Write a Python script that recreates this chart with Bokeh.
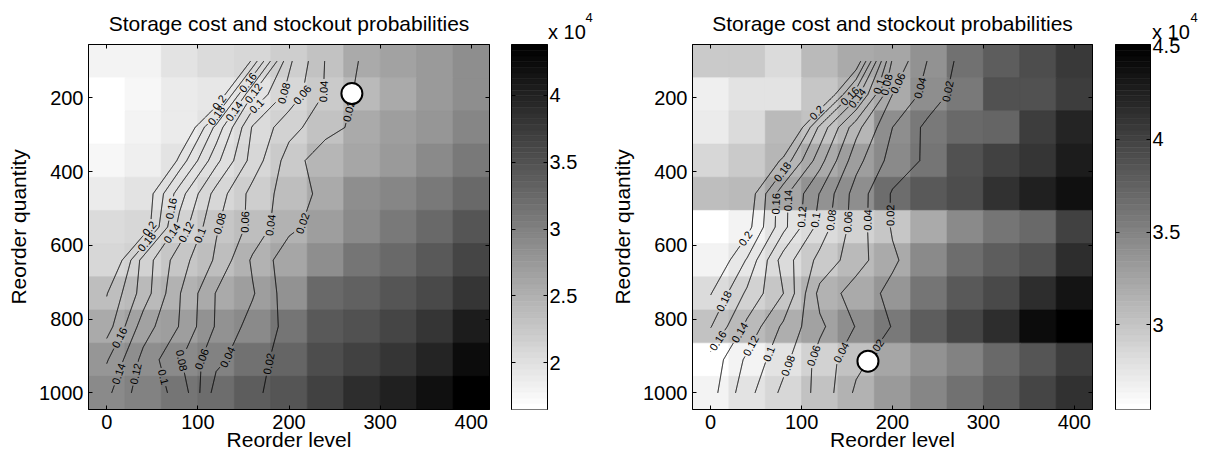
import math
import numpy as np
from contourpy import contour_generator, LineType
from bokeh.plotting import figure
from bokeh.models import Range1d, LinearAxis, FixedTicker, Title, ColumnDataSource, CustomJSTickFormatter
from bokeh.transform import linear_cmap
from bokeh.layouts import row
from bokeh.embed import file_html
from bokeh.resources import INLINE
from bokeh.core.properties import value

# ---------------- data ----------------
reorder_level = [0, 40, 80, 120, 160, 200, 240, 280, 320, 360, 400]
reorder_quantity = [100, 190, 280, 370, 460, 550, 640, 730, 820, 910, 1000]
levels = [0.02, 0.04, 0.06, 0.08, 0.1, 0.12, 0.14, 0.16, 0.18, 0.2]
x_ticks = [0, 100, 200, 300, 400]
y_ticks = [200, 400, 600, 800, 1000]
cb_ticks_left = [2.0, 2.5, 3.0, 3.5, 4.0]
cb_ticks_right = [3.0, 3.5, 4.0, 4.5]
title_text = "Storage cost and stockout probabilities"
x_label = "Reorder level"
y_label = "Reorder quantity"
cb_unit = "x 10"
cb_unit_exp = "4"

# storage cost (x 10^4), rows = reorder quantity, cols = reorder level
cost_left = [
    [1.79, 1.82, 1.95, 2.05, 2.08, 2.17, 2.29, 2.57, 2.65, 2.73, 2.88],
    [1.65, 1.74, 1.87, 1.93, 1.98, 2.10, 2.24, 2.41, 2.58, 2.73, 2.85],
    [1.68, 1.81, 1.87, 1.95, 2.06, 2.15, 2.32, 2.56, 2.69, 2.78, 2.96],
    [1.76, 1.85, 1.98, 2.02, 2.11, 2.24, 2.44, 2.63, 2.74, 2.90, 3.07],
    [1.90, 1.95, 2.00, 2.10, 2.19, 2.36, 2.55, 2.85, 2.96, 3.07, 3.25],
    [2.05, 2.10, 2.16, 2.27, 2.36, 2.50, 2.70, 2.90, 3.07, 3.25, 3.47],
    [2.09, 2.16, 2.27, 2.36, 2.47, 2.61, 2.88, 3.11, 3.26, 3.44, 3.65],
    [2.36, 2.41, 2.50, 2.58, 2.71, 2.82, 3.27, 3.35, 3.45, 3.59, 3.81],
    [2.58, 2.65, 2.71, 2.82, 2.92, 3.11, 3.40, 3.50, 3.64, 3.80, 4.08],
    [2.76, 2.85, 2.92, 3.01, 3.16, 3.29, 3.53, 3.69, 3.81, 3.97, 4.22],
    [2.90, 3.01, 3.11, 3.20, 3.36, 3.47, 3.66, 3.89, 4.02, 4.17, 4.38],
]
cost_right = [
    [2.97, 2.97, 2.83, 3.08, 3.20, 3.23, 3.40, 3.62, 3.80, 3.91, 4.07],
    [2.68, 2.76, 2.76, 3.00, 3.10, 3.22, 3.41, 3.56, 3.89, 3.88, 4.03],
    [2.72, 2.83, 3.07, 3.01, 3.12, 3.43, 3.56, 3.69, 3.72, 4.03, 4.22],
    [2.86, 2.95, 3.12, 3.22, 3.29, 3.45, 3.59, 3.88, 4.00, 4.09, 4.29],
    [3.05, 3.08, 3.24, 3.38, 3.43, 3.68, 3.83, 3.92, 4.14, 4.25, 4.38],
    [2.57, 2.64, 2.78, 2.85, 2.91, 2.99, 3.22, 3.44, 3.59, 3.71, 3.99],
    [2.66, 2.74, 2.85, 2.97, 3.07, 3.22, 3.46, 3.68, 3.80, 3.88, 4.16],
    [2.85, 2.91, 2.99, 3.13, 3.22, 3.35, 3.60, 3.82, 3.94, 4.16, 4.34],
    [3.03, 3.09, 3.18, 3.28, 3.42, 3.57, 3.79, 3.97, 4.15, 4.39, 4.51],
    [2.545, 2.66, 2.77, 2.91, 3.03, 3.23, 3.38, 3.52, 3.71, 3.84, 4.02],
    [2.65, 2.78, 2.86, 3.01, 3.15, 3.32, 3.47, 3.63, 3.78, 3.98, 4.12],
]
# stockout probability, same grid
prob_left = [
    [0.600, 0.520, 0.420, 0.308, 0.194, 0.084, 0.039, 0.018, 0.012, 0.008, 0.005],
    [0.550, 0.460, 0.350, 0.227, 0.120, 0.073, 0.038, 0.014, 0.010, 0.007, 0.005],
    [0.450, 0.340, 0.234, 0.154, 0.078, 0.047, 0.028, 0.013, 0.009, 0.006, 0.004],
    [0.380, 0.282, 0.193, 0.126, 0.072, 0.031, 0.006, 0.005, 0.004, 0.003, 0.002],
    [0.300, 0.219, 0.149, 0.092, 0.053, 0.031, 0.014, 0.010, 0.007, 0.005, 0.003],
    [0.290, 0.217, 0.132, 0.082, 0.054, 0.025, 0.010, 0.007, 0.005, 0.004, 0.003],
    [0.235, 0.152, 0.109, 0.077, 0.037, 0.007, 0.006, 0.005, 0.004, 0.003, 0.002],
    [0.201, 0.151, 0.101, 0.059, 0.042, 0.009, 0.007, 0.005, 0.004, 0.003, 0.002],
    [0.190, 0.130, 0.099, 0.058, 0.032, 0.015, 0.010, 0.007, 0.005, 0.004, 0.003],
    [0.162, 0.114, 0.082, 0.045, 0.027, 0.012, 0.009, 0.006, 0.005, 0.004, 0.003],
    [0.145, 0.108, 0.096, 0.031, 0.023, 0.0125, 0.009, 0.006, 0.005, 0.004, 0.003],
]
prob_right = [
    [0.550, 0.480, 0.400, 0.320, 0.218, 0.077, 0.038, 0.012, 0.008, 0.006, 0.004],
    [0.500, 0.420, 0.330, 0.238, 0.149, 0.060, 0.032, 0.008, 0.006, 0.005, 0.004],
    [0.420, 0.330, 0.250, 0.155, 0.087, 0.040, 0.014, 0.009, 0.006, 0.005, 0.004],
    [0.340, 0.251, 0.194, 0.128, 0.067, 0.032, 0.016, 0.010, 0.007, 0.005, 0.004],
    [0.290, 0.216, 0.146, 0.099, 0.051, 0.018, 0.012, 0.008, 0.006, 0.005, 0.004],
    [0.280, 0.208, 0.146, 0.092, 0.050, 0.018, 0.012, 0.008, 0.006, 0.005, 0.004],
    [0.225, 0.178, 0.110, 0.074, 0.049, 0.023, 0.006, 0.005, 0.004, 0.003, 0.003],
    [0.201, 0.156, 0.120, 0.054, 0.030, 0.015, 0.010, 0.007, 0.005, 0.004, 0.003],
    [0.181, 0.135, 0.096, 0.064, 0.039, 0.019, 0.012, 0.008, 0.006, 0.004, 0.003],
    [0.153, 0.116, 0.086, 0.053, 0.026, 0.008, 0.007, 0.006, 0.005, 0.004, 0.003],
    [0.148, 0.107, 0.075, 0.055, 0.016, 0.010, 0.008, 0.006, 0.005, 0.004, 0.003],
]
optimum_left = (269, 188)
optimum_right = (173, 914)

# where the inline contour labels sit (reorder-quantity value along each line)
label_y_left = {
    0.2: [212, 554], 0.18: [247, 590], 0.16: [158, 500, 850], 0.14: [236, 567, 948],
    0.12: [187, 563, 948], 0.1: [222, 572, 957], 0.08: [187, 540, 912],
    0.06: [191, 536, 908], 0.04: [182, 545, 903], 0.02: [236, 540, 921],
}
label_y_right = {
    0.2: [240, 581], 0.18: [400, 751], 0.16: [195, 487, 858], 0.14: [200, 478, 836],
    0.12: [522, 872], 0.1: [168, 531, 894], 0.08: [164, 531, 926],
    0.06: [160, 536, 899], 0.04: [173, 531, 890], 0.02: [182, 518, 881],
}

# ---------------- style / layout ----------------
FONT = "Liberation Sans"
FIG_H = 459
MB_TOP = 43
MB_BOT = 50
FRAME_H = FIG_H - MB_TOP - MB_BOT
MAIN_MBR = 11
LABEL_PX = 11
# MATLAB flipud(gray(64))
palette = ["#%02x%02x%02x" % ((round(255 * (1 - i / 63)),) * 3) for i in range(64)]
CHAR_W = {".": 0.278}


def style_axis(ax, labels=True):
    ax.major_tick_in = 4
    ax.major_tick_out = 0
    ax.minor_tick_line_color = None
    ax.axis_line_color = "black"
    ax.major_tick_line_color = "black"
    ax.major_label_text_font = FONT
    if labels:
        ax.major_label_text_font_size = "20px"
        ax.major_label_text_color = "black"
    else:
        ax.major_label_text_font_size = "1px"
        ax.major_label_text_color = None
        ax.major_label_standoff = 0


def build_main(cost, prob, optimum, label_y, frame_w, mbl):
    xs_arr = np.array(reorder_level, float)
    ys_arr = np.array(reorder_quantity, float)
    dx = xs_arr[1] - xs_arr[0]
    dy = ys_arr[1] - ys_arr[0]
    x_lo, x_hi = xs_arr[0] - dx / 2, xs_arr[-1] + dx / 2
    y_lo, y_hi = ys_arr[0] - dy / 2, ys_arr[-1] + dy / 2
    C = np.array(cost, float)
    low, high = float(C.min()), float(C.max())

    p = figure(width=mbl + frame_w + MAIN_MBR, height=FIG_H,
               x_range=Range1d(x_lo, x_hi), y_range=Range1d(y_hi, y_lo),
               output_backend="svg", toolbar_location=None,
               min_border_left=mbl, min_border_right=MAIN_MBR,
               min_border_top=MB_TOP, min_border_bottom=MB_BOT,
               title=title_text)
    p.title.text_font = FONT
    p.title.text_font_size = "21px"
    p.title.text_font_style = "normal"
    p.title.text_color = "black"
    p.title.align = "center"
    p.title.standoff = 19
    p.grid.visible = False
    p.outline_line_color = "black"
    p.outline_line_width = 1
    p.background_fill_color = "white"

    gx, gy = np.meshgrid(xs_arr, ys_arr)
    src = ColumnDataSource(dict(x=gx.ravel(), y=gy.ravel(), v=C.ravel()))
    cmap = linear_cmap("v", palette, low, high)
    p.rect(x="x", y="y", width=dx, height=dy, source=src, fill_color=cmap,
           line_color=cmap, line_width=0.6, dilate=True)

    # contours of the stockout probability with inline labels
    KX = frame_w / (x_hi - x_lo)
    KY = FRAME_H / (y_hi - y_lo)
    cg = contour_generator(x=xs_arr, y=ys_arr, z=np.array(prob, float), line_type=LineType.Separate)
    mxs, mys = [], []
    tx, ty, tt, ta = [], [], [], []
    for lvl in levels:
        lines = [np.asarray(l) for l in cg.lines(lvl)]
        txt = f"{lvl:g}"
        half = 0.5 * LABEL_PX * sum(CHAR_W.get(ch, 0.556) for ch in txt) + 1.5
        centers = []
        for yt in label_y.get(lvl, []):
            found = None
            for ln in lines:
                for k in range(len(ln) - 1):
                    y0, y1 = ln[k, 1], ln[k + 1, 1]
                    if y0 != y1 and (y0 - yt) * (y1 - yt) <= 0:
                        t = (yt - y0) / (y1 - y0)
                        x0, x1 = ln[k, 0], ln[k + 1, 0]
                        found = (x0 + t * (x1 - x0), yt, x1 - x0, y1 - y0)
                        break
                if found:
                    break
            if not found:
                continue
            cx, cy, ddx, ddy = found
            ang = math.atan2(-ddy * KY, ddx * KX)
            if ang > math.pi / 2:
                ang -= math.pi
            if ang < -math.pi / 2:
                ang += math.pi
            centers.append((cx, cy))
            tx.append(cx); ty.append(cy); tt.append(txt); ta.append(ang)
        for ln in lines:
            pts = []
            for k in range(len(ln) - 1):
                (x0, y0), (x1, y1) = ln[k], ln[k + 1]
                L = math.hypot((x1 - x0) * KX, (y1 - y0) * KY)
                n = max(1, int(math.ceil(L / 0.5)))
                t = np.arange(n) / n
                pts.append(np.column_stack([x0 + t * (x1 - x0), y0 + t * (y1 - y0)]))
            pts.append(ln[-1:])
            P = np.vstack(pts)
            keep = np.ones(len(P), bool)
            for (cx, cy) in centers:
                d = np.hypot((P[:, 0] - cx) * KX, (P[:, 1] - cy) * KY)
                keep &= d > half
            cur = []
            for i, kp in enumerate(keep):
                if kp:
                    cur.append(i)
                else:
                    if len(cur) > 1:
                        mxs.append(P[cur, 0].tolist()); mys.append(P[cur, 1].tolist())
                    cur = []
            if len(cur) > 1:
                mxs.append(P[cur, 0].tolist()); mys.append(P[cur, 1].tolist())
    p.multi_line(xs=mxs, ys=mys, line_color="black", line_width=1)
    p.text(x=tx, y=ty, text=tt, angle=ta, text_font=value(FONT), text_font_size=value(f"{LABEL_PX}px"),
           text_align="center", text_baseline="middle", text_color="black")

    p.scatter(x=[optimum[0]], y=[optimum[1]], size=21, marker="circle",
              fill_color="white", line_color="black", line_width=2)

    # axes
    p.xaxis.ticker = FixedTicker(ticks=x_ticks)
    p.yaxis.ticker = FixedTicker(ticks=y_ticks)
    style_axis(p.xaxis[0]); style_axis(p.yaxis[0])
    p.xaxis.major_label_standoff = 5
    p.yaxis.major_label_standoff = 5
    p.xaxis.axis_label = x_label
    p.yaxis.axis_label = y_label
    for ax in (p.xaxis[0], p.yaxis[0]):
        ax.axis_label_text_font = FONT
        ax.axis_label_text_font_size = "21px"
        ax.axis_label_text_font_style = "normal"
        ax.axis_label_text_color = "black"
    p.xaxis.axis_label_standoff = -4
    p.yaxis.axis_label_standoff = 6
    top = LinearAxis(ticker=FixedTicker(ticks=x_ticks))
    style_axis(top, labels=False)
    p.add_layout(top, "above")
    right = LinearAxis(ticker=FixedTicker(ticks=y_ticks))
    style_axis(right, labels=False)
    p.add_layout(right, "right")
    return p, low, high


def build_cb(low, high, ticks, frame_w, mbl, mbr, unit_dx, exp_dx):
    c = figure(width=mbl + frame_w + mbr, height=FIG_H, x_range=Range1d(0, 1), y_range=Range1d(low, high),
               output_backend="svg", toolbar_location=None, x_axis_location=None, y_axis_location=None,
               min_border_left=mbl, min_border_right=mbr, min_border_top=MB_TOP, min_border_bottom=MB_BOT)
    c.grid.visible = False
    c.outline_line_color = "black"
    c.outline_line_width = 1
    n = len(palette)
    edges = low + (high - low) * np.arange(n + 1) / n
    c.quad(left=0, right=1, bottom=edges[:-1], top=edges[1:], fill_color=palette, line_color=palette,
           line_width=0.6)
    ra = LinearAxis(ticker=FixedTicker(ticks=ticks), formatter=CustomJSTickFormatter(code="return String(tick)"))
    style_axis(ra)
    ra.major_label_standoff = 2
    c.add_layout(ra, "right")
    la = LinearAxis(ticker=FixedTicker(ticks=ticks))
    style_axis(la, labels=False)
    c.add_layout(la, "left")
    c.add_layout(Title(text=cb_unit, align="left", offset=frame_w + unit_dx, standoff=3,
                       text_font=FONT, text_font_size="20px", text_font_style="normal",
                       text_color="black"), "above")
    c.add_layout(Title(text=cb_unit_exp, align="left", offset=frame_w + exp_dx, standoff=-8,
                       text_font=FONT, text_font_size="13px", text_font_style="normal",
                       text_color="black"), "above")
    return c


p_left, lo_l, hi_l = build_main(cost_left, prob_left, optimum_left, label_y_left, 401, 88)
cb_left = build_cb(lo_l, hi_l, cb_ticks_left, 36, 11, 53, 0.5, 38)
p_right, lo_r, hi_r = build_main(cost_right, prob_right, optimum_right, label_y_right, 400, 92)
cb_right = build_cb(lo_r, hi_r, cb_ticks_right, 35, 12, 54, 1.5, 40)

layout = row(p_left, cb_left, p_right, cb_right)
open("out.html", "w").write(file_html(layout, INLINE))
